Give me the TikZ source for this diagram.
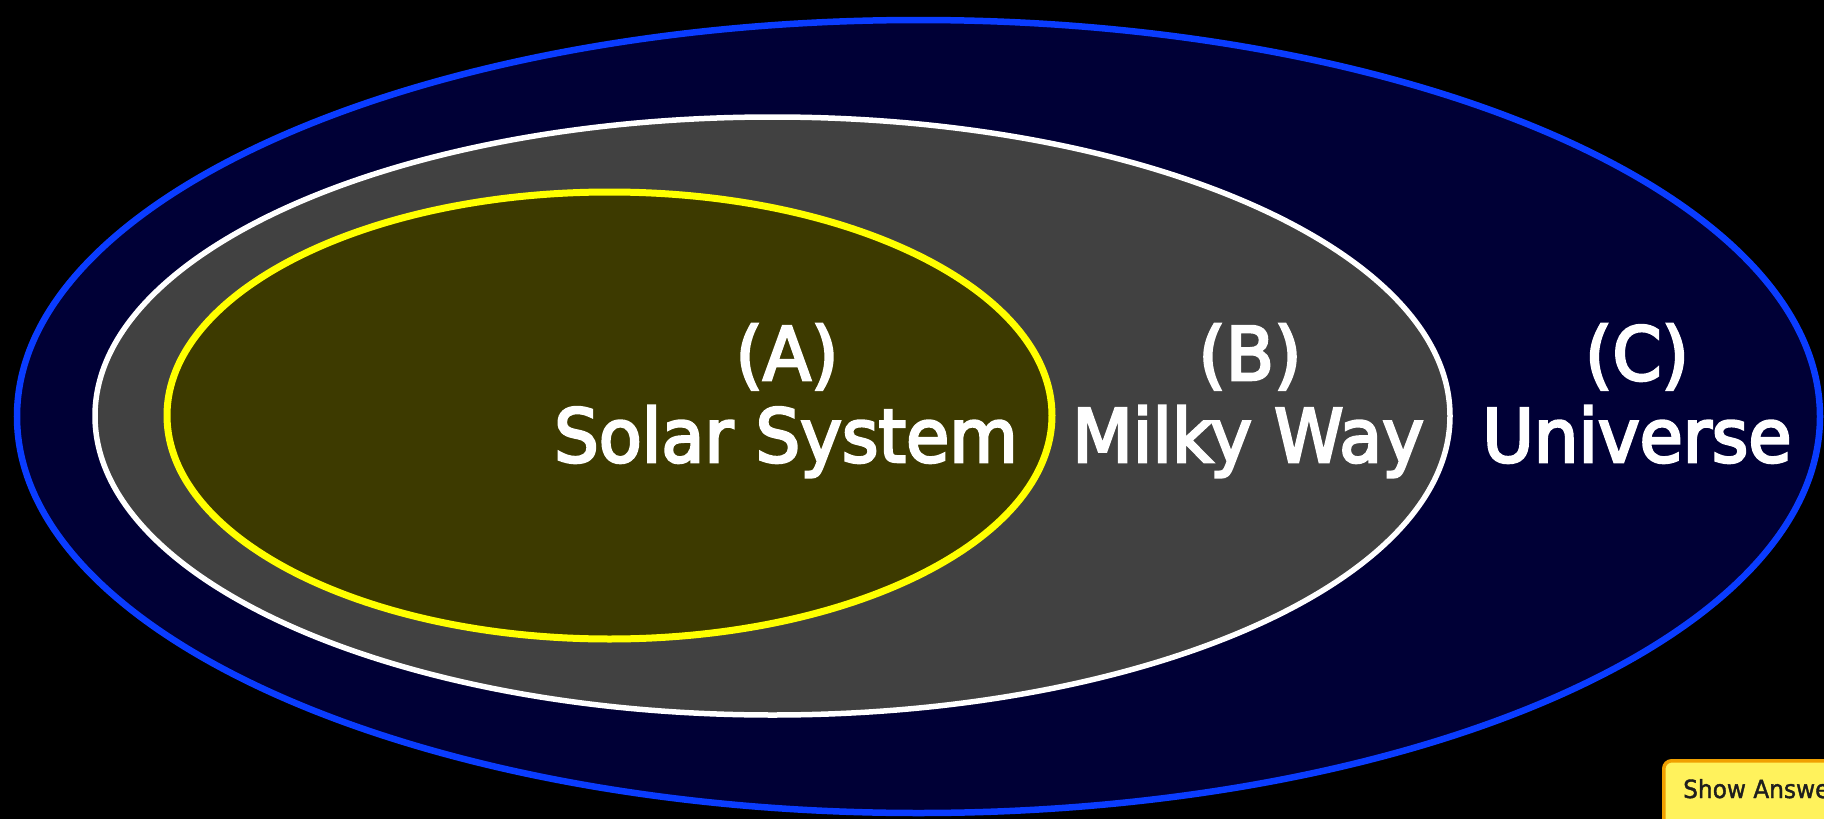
\documentclass[tikz,border=0pt]{standalone}
\usepackage{fontspec}
\usetikzlibrary{shapes.geometric}
\newfontfamily\labfont[FakeStretch=0.95,FakeBold=3.5]{DejaVu Sans}
\newfontfamily\btnfont[FakeStretch=0.93,FakeBold=1.5]{DejaVu Sans}
\definecolor{univfill}{HTML}{000036}
\definecolor{univline}{HTML}{0A3CFF}
\definecolor{mwfill}{HTML}{414141}
\definecolor{ssfill}{HTML}{3D3A00}
\definecolor{ssline}{HTML}{FFFF00}
\definecolor{btnfill}{HTML}{FFF25C}
\definecolor{btnline}{HTML}{F0A000}
\definecolor{btntext}{HTML}{1E1E1E}
\tikzset{
  region/.style={ellipse, inner sep=0pt, outer sep=0pt},
  biglabel/.style={anchor=base, inner sep=0pt, text=white, font=\labfont\fontsize{74}{82}\selectfont},
  btnbox/.style={rectangle, rounded corners=8pt, fill=btnfill, draw=btnline, line width=3.5pt, anchor=north west, minimum width=260pt, minimum height=100pt, inner sep=0pt},
}
\begin{document}
\begin{tikzpicture}[x=1pt,y=-1pt]
\useasboundingbox (0,0) rectangle (1824,819);
\clip (0,0) rectangle (1824,819);
\fill[black] (0,0) rectangle (1824,819);
\node[region, fill=univfill, draw=univline, line width=6.5pt, minimum width=1803pt, minimum height=793pt] (universe) at (918.5,416.5) {};
\node[region, fill=mwfill, draw=white, line width=5.5pt, minimum width=1355pt, minimum height=598pt] (milkyway) at (772.5,416) {};
\node[region, fill=ssfill, draw=ssline, line width=7pt, minimum width=885pt, minimum height=447pt] (solarsystem) at (609.5,415.5) {};
\node[biglabel] (tagA) at (787,380) {(A)};
\node[biglabel] (nameA) at (786,462) {Solar System};
\node[biglabel] (tagB) at (1250,380) {(B)};
\node[biglabel] (nameB) at (1248,462) {Milky Way};
\node[biglabel] (tagC) at (1637,380) {(C)};
\node[biglabel] (nameC) at (1637,462) {Universe};
\node[btnbox] (button) at (1662,759) {};
\node[anchor=base west, inner sep=0pt, text=btntext, font=\btnfont\fontsize{25}{30}\selectfont] (buttontext) at (1683,798) {Show Answer};
\end{tikzpicture}
\end{document}
